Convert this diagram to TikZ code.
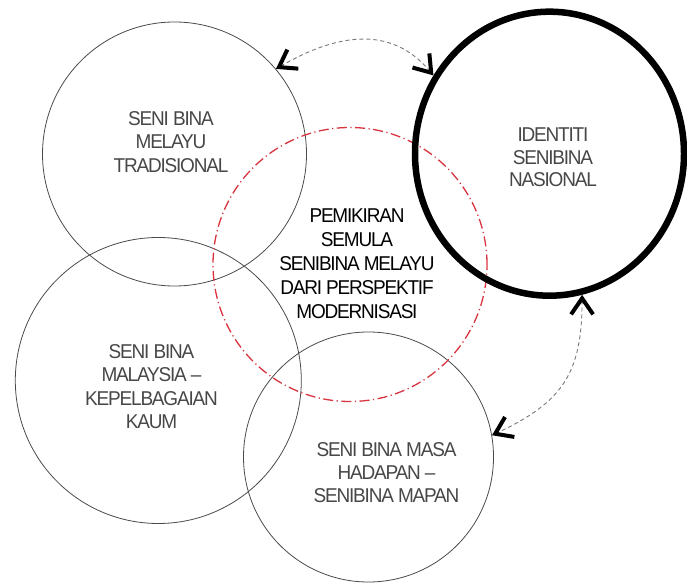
\documentclass[tikz,border=0pt]{standalone}
\usepackage{fontspec}
\setmainfont{Liberation Sans}[FakeStretch=0.95,LetterSpace=-6]
\usetikzlibrary{shapes.geometric,arrows.meta}
\definecolor{ringgray}{HTML}{4A4A4A}
\definecolor{labelgray}{HTML}{474747}
\definecolor{linkgray}{HTML}{7A7A7A}
\definecolor{dashred}{HTML}{D8343F}
\begin{document}
\begin{tikzpicture}[x=1pt,y=1pt,
  ring/.style={circle,draw=ringgray,line width=0.8pt,inner sep=0pt},
  lbl/.style={align=center,text=labelgray,font=\fontsize{20}{23.5}\selectfont},
  link/.style={draw=linkgray,line width=0.9pt,dash pattern=on 4pt off 3pt,
    {Straight Barb[color=black,length=16pt,width=22pt,line width=4pt]}-{Straight Barb[color=black,length=16pt,width=22pt,line width=4pt]}},
]
\useasboundingbox (0,0) rectangle (687,583);
% circles
\node[ring,minimum size=264pt] (trad) at (174.5,429) {};
\node[ring,minimum size=286pt] (malay) at (158.3,202.5) {};
\node[ring,minimum size=250pt] (mapan) at (368.5,126) {};
\node[circle,draw=dashred,line width=1.3pt,inner sep=0pt,minimum size=274pt,
      dash pattern=on 10pt off 3.5pt on 1.2pt off 3.5pt] (core) at (350,318.5) {};
\node[ellipse,draw=black,line width=6.5pt,inner sep=0pt,minimum width=269pt,minimum height=284pt] (id) at (549.5,429.3) {};
% labels
\node[lbl] (tradtext) at (171,441) {SENI BINA\\MELAYU\\TRADISIONAL};
\node[lbl,font=\fontsize{20}{22.5}\selectfont] (idtext) at (553,425.5) {IDENTITI\\SENIBINA\\NASIONAL};
\node[lbl,text=black,font=\fontsize{20}{24}\selectfont] (coretext) at (357,319) {PEMIKIRAN\\SEMULA\\SENIBINA MELAYU\\DARI PERSPEKTIF\\MODERNISASI};
\node[lbl] (maltext) at (151.5,196.5) {SENI BINA\\MALAYSIA --\\KEPELBAGAIAN\\KAUM};
\node[lbl,font=\fontsize{20}{23}\selectfont] (maptext) at (386.5,110) {SENI BINA MASA\\HADAPAN --\\SENIBINA MAPAN};
% connectors
\draw[link] (trad.40) to[out=30,in=130,looseness=1.1] (id.146);
\draw[link] (id.-77) to[out=-90,in=25,looseness=1.2] (mapan.10);
\end{tikzpicture}
\end{document}
